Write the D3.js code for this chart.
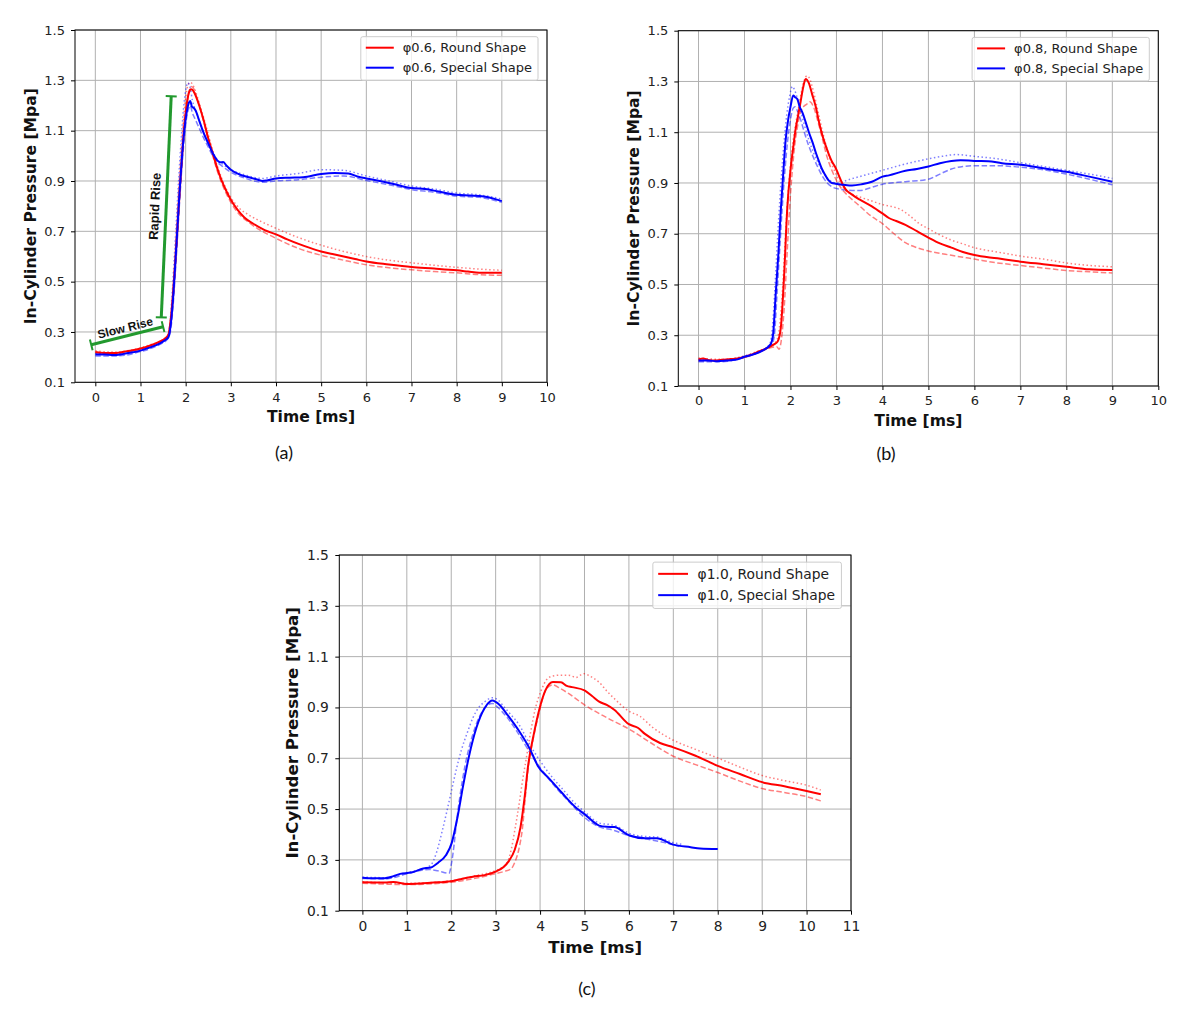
<!DOCTYPE html>
<html>
<head>
<meta charset="utf-8">
<title>In-Cylinder Pressure</title>
<script src="https://cdn.jsdelivr.net/npm/d3@7/dist/d3.min.js"></script>
<style>
	body { margin: 0; background: #fff; }
	svg { display: block; font-family: 'DejaVu Sans', sans-serif; }
</style>
</head>
<body>
<svg id="chart" width="1187" height="1020"></svg>
<script>
// [time ms, pressure MPa]
const a06Round = [[0,0.22],[0.2,0.216],[0.4,0.216],[0.6,0.22],[0.8,0.226],[1.0,0.234],[1.2,0.245],[1.4,0.26],[1.55,0.275],[1.62,0.29],[1.67,0.35],[1.72,0.45],[1.77,0.58],[1.82,0.72],[1.87,0.87],[1.92,1.0],[1.97,1.12],[2.02,1.2],[2.07,1.25],[2.12,1.265],[2.17,1.258],[2.23,1.235],[2.3,1.2],[2.4,1.14],[2.5,1.07],[2.6,1.01],[2.7,0.95],[2.8,0.9],[2.9,0.86],[3.0,0.825],[3.15,0.785],[3.3,0.755],[3.5,0.73],[3.75,0.705],[4.0,0.688],[4.25,0.668],[4.5,0.65],[4.75,0.634],[5.0,0.62],[5.25,0.61],[5.5,0.6],[5.75,0.59],[6.0,0.58],[6.5,0.568],[7.0,0.558],[7.5,0.552],[8.0,0.545],[8.25,0.54],[8.5,0.535],[9.0,0.535]]
const a06RoundDot = [[0,0.225],[0.4,0.22],[0.8,0.228],[1.2,0.248],[1.5,0.27],[1.6,0.285],[1.65,0.33],[1.7,0.43],[1.75,0.56],[1.8,0.72],[1.85,0.88],[1.9,1.02],[1.95,1.14],[2.0,1.23],[2.05,1.28],[2.1,1.292],[2.15,1.285],[2.22,1.255],[2.3,1.21],[2.4,1.15],[2.5,1.085],[2.6,1.02],[2.7,0.96],[2.8,0.91],[2.9,0.868],[3.0,0.835],[3.2,0.79],[3.4,0.765],[3.6,0.745],[3.8,0.728],[4.0,0.712],[4.5,0.675],[5.0,0.645],[5.5,0.62],[6.0,0.6],[6.5,0.585],[7.0,0.575],[7.5,0.565],[8.0,0.557],[8.5,0.55],[9.0,0.545]]
const a06RoundDash = [[0,0.215],[0.4,0.212],[0.8,0.222],[1.2,0.24],[1.5,0.265],[1.62,0.28],[1.67,0.33],[1.72,0.42],[1.77,0.55],[1.82,0.69],[1.87,0.84],[1.92,0.98],[1.97,1.1],[2.02,1.19],[2.07,1.25],[2.12,1.275],[2.17,1.27],[2.23,1.24],[2.3,1.2],[2.4,1.135],[2.5,1.065],[2.6,1.0],[2.7,0.94],[2.8,0.89],[2.9,0.85],[3.0,0.815],[3.2,0.765],[3.4,0.735],[3.6,0.71],[3.8,0.69],[4.0,0.672],[4.5,0.632],[5.0,0.605],[5.5,0.585],[6.0,0.567],[6.5,0.555],[7.0,0.547],[7.5,0.54],[8.0,0.535],[8.5,0.528],[9.0,0.525]]
const a06Special = [[0,0.21],[0.2,0.21],[0.4,0.208],[0.6,0.212],[0.8,0.218],[1.0,0.226],[1.2,0.238],[1.4,0.252],[1.55,0.268],[1.62,0.28],[1.67,0.33],[1.72,0.43],[1.77,0.57],[1.82,0.72],[1.87,0.87],[1.92,1.0],[1.97,1.1],[2.02,1.17],[2.07,1.21],[2.1,1.218],[2.14,1.195],[2.18,1.19],[2.22,1.18],[2.3,1.14],[2.4,1.09],[2.5,1.05],[2.6,1.01],[2.7,0.982],[2.76,0.974],[2.83,0.975],[2.9,0.962],[3.0,0.945],[3.2,0.925],[3.4,0.915],[3.6,0.905],[3.7,0.9],[3.8,0.902],[4.0,0.91],[4.3,0.913],[4.6,0.915],[5.0,0.928],[5.3,0.932],[5.6,0.93],[5.8,0.918],[6.0,0.91],[6.3,0.9],[6.6,0.888],[7.0,0.872],[7.3,0.868],[7.6,0.858],[8.0,0.845],[8.3,0.842],[8.6,0.838],[9.0,0.82]]
const a06SpecialDot = [[0,0.215],[0.5,0.212],[1.0,0.228],[1.4,0.255],[1.6,0.28],[1.65,0.33],[1.7,0.45],[1.75,0.6],[1.8,0.76],[1.85,0.92],[1.9,1.06],[1.95,1.18],[2.0,1.26],[2.05,1.29],[2.1,1.27],[2.15,1.22],[2.2,1.19],[2.3,1.14],[2.4,1.09],[2.5,1.05],[2.6,1.015],[2.7,0.985],[2.8,0.97],[3.0,0.945],[3.3,0.925],[3.7,0.91],[4.0,0.92],[4.5,0.93],[5.0,0.945],[5.5,0.942],[6.0,0.92],[6.5,0.9],[7.0,0.88],[7.5,0.868],[8.0,0.852],[8.5,0.845],[9.0,0.828]]
const a06SpecialDash = [[0,0.205],[0.5,0.205],[1.0,0.222],[1.4,0.248],[1.6,0.272],[1.67,0.31],[1.72,0.4],[1.77,0.53],[1.82,0.68],[1.87,0.83],[1.92,0.96],[1.97,1.07],[2.02,1.15],[2.07,1.19],[2.1,1.2],[2.15,1.17],[2.2,1.15],[2.3,1.11],[2.4,1.07],[2.5,1.035],[2.6,1.0],[2.7,0.975],[2.8,0.96],[3.0,0.935],[3.3,0.912],[3.7,0.895],[4.0,0.9],[4.5,0.905],[5.0,0.915],[5.5,0.92],[6.0,0.902],[6.5,0.885],[7.0,0.866],[7.5,0.855],[8.0,0.84],[8.5,0.835],[9.0,0.815]]

const b08Round = [[0,0.205],[0.1,0.208],[0.2,0.203],[0.35,0.2],[0.5,0.203],[0.7,0.206],[0.9,0.21],[1.1,0.22],[1.3,0.235],[1.5,0.25],[1.65,0.265],[1.72,0.275],[1.79,0.33],[1.86,0.53],[1.93,0.8],[2.0,0.95],[2.06,1.04],[2.11,1.11],[2.17,1.17],[2.22,1.22],[2.28,1.28],[2.33,1.31],[2.4,1.293],[2.47,1.25],[2.55,1.2],[2.62,1.14],[2.69,1.09],[2.76,1.05],[2.83,1.015],[2.9,0.985],[2.98,0.96],[3.05,0.93],[3.12,0.9],[3.2,0.875],[3.34,0.854],[3.5,0.835],[3.77,0.808],[4.0,0.78],[4.14,0.762],[4.3,0.75],[4.5,0.735],[4.75,0.71],[5.0,0.685],[5.25,0.662],[5.5,0.645],[5.75,0.628],[6.0,0.616],[6.5,0.603],[7.0,0.59],[7.5,0.58],[8.0,0.57],[8.5,0.56],[9.0,0.557]]
const b08RoundDot = [[0,0.21],[0.5,0.205],[1.0,0.218],[1.3,0.238],[1.6,0.262],[1.7,0.28],[1.76,0.33],[1.82,0.46],[1.88,0.66],[1.94,0.84],[2.0,0.97],[2.06,1.07],[2.12,1.14],[2.18,1.2],[2.24,1.26],[2.3,1.305],[2.36,1.322],[2.42,1.31],[2.5,1.26],[2.6,1.18],[2.7,1.1],[2.8,1.03],[2.9,0.975],[3.0,0.93],[3.1,0.895],[3.2,0.87],[3.35,0.855],[3.5,0.845],[3.75,0.83],[4.0,0.815],[4.25,0.805],[4.4,0.795],[4.6,0.77],[4.8,0.74],[5.0,0.72],[5.25,0.695],[5.5,0.675],[5.75,0.66],[6.0,0.645],[6.5,0.628],[7.0,0.612],[7.5,0.6],[8.0,0.585],[8.5,0.575],[9.0,0.57]]
const b08RoundDash = [[0,0.2],[0.5,0.2],[1.0,0.215],[1.3,0.232],[1.55,0.25],[1.7,0.255],[1.75,0.245],[1.8,0.28],[1.86,0.4],[1.92,0.6],[1.98,0.8],[2.04,0.95],[2.1,1.06],[2.16,1.13],[2.22,1.18],[2.28,1.2],[2.35,1.21],[2.42,1.22],[2.5,1.2],[2.6,1.14],[2.7,1.07],[2.8,1.0],[2.9,0.95],[3.0,0.91],[3.1,0.88],[3.25,0.85],[3.5,0.81],[3.75,0.77],[4.0,0.74],[4.25,0.7],[4.5,0.665],[4.75,0.645],[5.0,0.632],[5.5,0.615],[6.0,0.6],[6.5,0.585],[7.0,0.575],[7.5,0.565],[8.0,0.555],[8.5,0.55],[9.0,0.545]]
const b08Special = [[0,0.2],[0.2,0.2],[0.4,0.198],[0.6,0.2],[0.8,0.203],[1.0,0.215],[1.2,0.225],[1.4,0.24],[1.57,0.265],[1.62,0.3],[1.68,0.466],[1.74,0.63],[1.79,0.795],[1.84,0.93],[1.89,1.06],[1.95,1.15],[2.0,1.2],[2.06,1.245],[2.1,1.238],[2.15,1.23],[2.2,1.2],[2.26,1.177],[2.33,1.14],[2.4,1.1],[2.48,1.06],[2.55,1.02],[2.62,0.985],[2.69,0.953],[2.76,0.93],[2.83,0.91],[2.9,0.9],[2.98,0.897],[3.15,0.893],[3.34,0.89],[3.55,0.895],[3.77,0.905],[4.0,0.925],[4.14,0.93],[4.5,0.948],[4.75,0.955],[5.0,0.965],[5.25,0.978],[5.5,0.987],[5.7,0.99],[6.0,0.987],[6.3,0.986],[6.6,0.978],[7.0,0.972],[7.5,0.958],[8.0,0.944],[8.5,0.925],[9.0,0.905]]
const b08SpecialDot = [[0,0.205],[0.5,0.2],[1.0,0.218],[1.3,0.235],[1.5,0.255],[1.57,0.275],[1.62,0.36],[1.68,0.55],[1.74,0.75],[1.8,0.92],[1.86,1.06],[1.92,1.17],[1.98,1.24],[2.04,1.28],[2.08,1.27],[2.14,1.24],[2.2,1.2],[2.3,1.13],[2.4,1.07],[2.5,1.02],[2.6,0.98],[2.7,0.945],[2.8,0.92],[2.9,0.905],[3.0,0.9],[3.3,0.915],[3.6,0.93],[4.0,0.95],[4.5,0.975],[5.0,0.995],[5.3,1.005],[5.6,1.012],[6.0,1.005],[6.5,0.995],[7.0,0.98],[7.5,0.965],[8.0,0.95],[8.5,0.935],[9.0,0.918]]
const b08SpecialDash = [[0,0.196],[0.5,0.196],[1.0,0.212],[1.3,0.232],[1.5,0.25],[1.6,0.265],[1.65,0.3],[1.7,0.44],[1.76,0.62],[1.82,0.8],[1.88,0.95],[1.94,1.07],[2.0,1.15],[2.06,1.195],[2.1,1.2],[2.16,1.18],[2.22,1.15],[2.3,1.1],[2.4,1.045],[2.5,1.0],[2.6,0.96],[2.7,0.925],[2.8,0.9],[2.9,0.885],[3.0,0.878],[3.25,0.872],[3.5,0.87],[3.75,0.882],[4.0,0.895],[4.5,0.905],[5.0,0.915],[5.25,0.935],[5.5,0.955],[5.75,0.965],[6.0,0.968],[6.5,0.968],[7.0,0.962],[7.5,0.952],[8.0,0.935],[8.5,0.915],[9.0,0.893]]

const c10Round = [[0,0.212],[0.5,0.211],[0.7,0.213],[1.0,0.205],[1.3,0.207],[1.54,0.21],[2.0,0.216],[2.25,0.226],[2.49,0.234],[2.75,0.24],[3.0,0.254],[3.18,0.272],[3.3,0.296],[3.43,0.34],[3.56,0.429],[3.65,0.543],[3.73,0.67],[3.86,0.796],[3.99,0.897],[4.12,0.967],[4.29,1.0],[4.47,0.999],[4.6,0.985],[4.72,0.98],[5.0,0.967],[5.17,0.945],[5.33,0.923],[5.5,0.91],[5.67,0.891],[6.0,0.834],[6.2,0.82],[6.36,0.796],[6.7,0.76],[7.0,0.743],[7.5,0.71],[8.0,0.67],[8.5,0.638],[9.0,0.606],[9.5,0.59],[10.0,0.571],[10.32,0.558]]
const c10RoundDot = [[0,0.214],[1.0,0.208],[2.0,0.218],[2.5,0.236],[2.9,0.252],[3.1,0.266],[3.26,0.29],[3.35,0.34],[3.43,0.416],[3.52,0.51],[3.6,0.606],[3.69,0.7],[3.78,0.796],[3.9,0.9],[4.04,0.973],[4.15,1.01],[4.29,1.024],[4.45,1.027],[4.64,1.027],[4.81,1.018],[4.92,1.028],[5.0,1.033],[5.1,1.025],[5.33,0.999],[5.5,0.965],[5.67,0.935],[6.0,0.885],[6.25,0.865],[6.53,0.822],[7.0,0.771],[7.5,0.735],[8.0,0.701],[8.5,0.665],[9.0,0.632],[9.5,0.612],[10.0,0.594],[10.32,0.575]]
const c10RoundDash = [[0,0.208],[1.0,0.203],[2.0,0.212],[2.5,0.226],[3.0,0.246],[3.2,0.255],[3.35,0.265],[3.43,0.29],[3.52,0.34],[3.6,0.42],[3.67,0.55],[3.74,0.67],[3.85,0.78],[3.95,0.86],[4.05,0.93],[4.15,0.975],[4.29,0.989],[4.45,0.975],[4.64,0.955],[5.0,0.91],[5.5,0.86],[6.0,0.815],[6.5,0.76],[7.0,0.708],[7.5,0.675],[8.0,0.644],[8.5,0.61],[9.0,0.581],[9.5,0.565],[10.0,0.549],[10.32,0.532]]
const c10Special = [[0,0.23],[0.25,0.228],[0.5,0.228],[0.7,0.236],[0.85,0.245],[1.1,0.25],[1.37,0.266],[1.54,0.27],[1.71,0.29],[1.88,0.318],[2.01,0.366],[2.14,0.467],[2.27,0.594],[2.4,0.708],[2.57,0.822],[2.75,0.897],[2.87,0.923],[2.92,0.927],[3.0,0.922],[3.09,0.91],[3.26,0.872],[3.52,0.809],[3.78,0.733],[3.95,0.67],[4.21,0.619],[4.47,0.568],[4.81,0.505],[5.0,0.48],[5.33,0.435],[5.5,0.43],[5.67,0.429],[6.0,0.397],[6.36,0.385],[6.62,0.385],[7.0,0.36],[7.39,0.35],[7.6,0.345],[8.0,0.343]]
const c10SpecialDot = [[0,0.232],[0.5,0.23],[1.0,0.25],[1.3,0.262],[1.54,0.28],[1.67,0.33],[1.8,0.416],[1.9,0.49],[2.0,0.568],[2.12,0.66],[2.23,0.733],[2.36,0.8],[2.49,0.86],[2.62,0.9],[2.75,0.922],[2.92,0.938],[3.05,0.93],[3.18,0.904],[3.35,0.87],[3.52,0.834],[3.78,0.75],[4.0,0.69],[4.25,0.63],[4.5,0.58],[4.8,0.52],[5.0,0.49],[5.33,0.445],[5.67,0.436],[6.0,0.405],[6.36,0.392],[6.62,0.39],[7.0,0.368],[7.22,0.36]]
const c10SpecialDash = [[0,0.227],[0.5,0.225],[1.0,0.245],[1.3,0.258],[1.5,0.262],[1.7,0.257],[1.95,0.247],[2.0,0.28],[2.06,0.353],[2.12,0.45],[2.19,0.543],[2.31,0.67],[2.49,0.796],[2.7,0.885],[2.92,0.916],[3.05,0.9],[3.26,0.86],[3.5,0.8],[3.78,0.72],[4.1,0.64],[4.38,0.58],[4.7,0.52],[5.0,0.467],[5.33,0.43],[5.67,0.416],[6.0,0.395],[6.53,0.378],[6.8,0.368],[7.13,0.353]]

// ticks and labels
const yTicks = [0.1, 0.3, 0.5, 0.7, 0.9, 1.1, 1.3, 1.5]
const xTicks10 = [0, 1, 2, 3, 4, 5, 6, 7, 8, 9, 10]
const xTicks11 = [0, 1, 2, 3, 4, 5, 6, 7, 8, 9, 10, 11]
const legendA = ['φ0.6, Round Shape', 'φ0.6, Special Shape']
const legendB = ['φ0.8, Round Shape', 'φ0.8, Special Shape']
const legendC = ['φ1.0, Round Shape', 'φ1.0, Special Shape']
const yLabel = 'In-Cylinder Pressure [Mpa]'
const xLabel = 'Time [ms]'

// green brackets on panel (a)
const slowRise = [[-0.09, 0.249], [1.5, 0.321]]
const rapidRise = [[1.46, 0.358], [1.68, 1.237]]

const RED = '#ff0000'
const BLUE = '#0000ff'
const GREEN = '#22992e'
const DOT = '1.5,2.5'
const DASH = '5.5,2.5'

const set = (round, roundDot, roundDash, special, specialDot, specialDash) => [
	{ data: roundDot, color: RED, dash: DOT },
	{ data: roundDash, color: RED, dash: DASH },
	{ data: specialDot, color: BLUE, dash: DOT },
	{ data: specialDash, color: BLUE, dash: DASH },
	{ data: round, color: RED, dash: null },
	{ data: special, color: BLUE, dash: null },
]

const panels = [
	{ tag: '(a)', tagAt: [284, 452], box: [75, 30, 547, 382.3], xDomain: [-0.45, 10], xTicks: xTicks10, k: 1, legend: legendA,
		series: set(a06Round, a06RoundDot, a06RoundDash, a06Special, a06SpecialDot, a06SpecialDash), notes: true },
	{ tag: '(b)', tagAt: [886, 453], box: [678.3, 30.7, 1158.3, 386], xDomain: [-0.44, 10], xTicks: xTicks10, k: 1, legend: legendB,
		series: set(b08Round, b08RoundDot, b08RoundDash, b08Special, b08SpecialDot, b08SpecialDash) },
	{ tag: '(c)', tagAt: [587, 988], box: [339.3, 555, 851, 910.7], xDomain: [-0.52, 11], xTicks: xTicks11, k: 1.065, legend: legendC,
		series: set(c10Round, c10RoundDot, c10RoundDash, c10Special, c10SpecialDot, c10SpecialDash) },
]

const svg = d3.select('#chart')

const bracket = (g, pts, x, y, label, fontSize, side) => {
	const [p0, p1] = pts.map(d => [x(d[0]), y(d[1])])
	const dx = p1[0] - p0[0]
	const dy = p1[1] - p0[1]
	const len = Math.hypot(dx, dy)
	const nx = -dy / len
	const ny = dx / len
	const cap = 5.5
	g.append('line')
		.attr('x1', p0[0]).attr('y1', p0[1]).attr('x2', p1[0]).attr('y2', p1[1])
		.attr('stroke', GREEN).attr('stroke-width', 3)
	;[p0, p1].forEach(p => {
		g.append('line')
			.attr('x1', p[0] - nx * cap).attr('y1', p[1] - ny * cap)
			.attr('x2', p[0] + nx * cap).attr('y2', p[1] + ny * cap)
			.attr('stroke', GREEN).attr('stroke-width', 2)
	})
	const angle = Math.atan2(dy, dx) * 180 / Math.PI
	const mx = (p0[0] + p1[0]) / 2 + nx * side
	const my = (p0[1] + p1[1]) / 2 + ny * side
	g.append('text')
		.attr('transform', `translate(${mx},${my}) rotate(${angle})`)
		.attr('text-anchor', 'middle').attr('dominant-baseline', 'central')
		.attr('font-family', "'Liberation Sans', Arial, sans-serif").attr('font-weight', 'bold')
		.attr('font-size', fontSize).attr('fill', '#111')
		.text(label)
}

const drawPanel = (p) => {
	const [x0, y0, x1, y1] = p.box
	const k = p.k
	const x = d3.scaleLinear().domain(p.xDomain).range([x0, x1])
	const y = d3.scaleLinear().domain([0.1, 1.5]).range([y1, y0])
	const g = svg.append('g')

	// grid
	const grid = g.append('g').attr('stroke', '#b0b0b0').attr('stroke-width', 1)
	grid.selectAll('line.gx').data(p.xTicks).join('line').attr('class', 'gx')
		.attr('x1', d => x(d)).attr('x2', d => x(d)).attr('y1', y0).attr('y2', y1)
	grid.selectAll('line.gy').data(yTicks).join('line').attr('class', 'gy')
		.attr('x1', x0).attr('x2', x1).attr('y1', d => y(d)).attr('y2', d => y(d))

	// curves
	const line = d3.line().x(d => x(d[0])).y(d => y(d[1])).curve(d3.curveMonotoneX)
	g.append('g').selectAll('path').data(p.series).join('path')
		.attr('d', d => line(d.data))
		.attr('fill', 'none')
		.attr('stroke', d => d.color)
		.attr('stroke-width', d => d.dash ? 1.5 : 2)
		.attr('stroke-opacity', d => d.dash ? 0.5 : 1)
		.attr('stroke-dasharray', d => d.dash)
		.attr('stroke-linejoin', 'round')

	if (p.notes) {
		const ng = g.append('g')
		// the slow rise bracket runs left to right, the rapid one bottom to top
		bracket(ng, slowRise, x, y, 'Slow Rise', 12, -8)
		bracket(ng, rapidRise, x, y, 'Rapid Rise', 13, -11.5)
	}

	// frame
	g.append('rect')
		.attr('x', x0).attr('y', y0).attr('width', x1 - x0).attr('height', y1 - y0)
		.attr('fill', 'none').attr('stroke', '#000').attr('stroke-width', 1)

	// axes
	const tickFont = 13 * k
	const axX = g.append('g').attr('transform', `translate(0,${y1})`)
		.call(d3.axisBottom(x).tickValues(p.xTicks).tickFormat(d3.format('d')).tickSize(4).tickPadding(6 * k))
	const axY = g.append('g').attr('transform', `translate(${x0},0)`)
		.call(d3.axisLeft(y).tickValues(yTicks).tickFormat(d3.format('.1f')).tickSize(4).tickPadding(6 * k))
	;[axX, axY].forEach(ax => {
		ax.select('.domain').remove()
		ax.attr('font-family', "'DejaVu Sans', sans-serif").attr('font-size', tickFont)
		ax.selectAll('.tick line').attr('stroke', '#000')
		ax.selectAll('.tick text').attr('fill', '#222')
	})

	// axis titles
	g.append('text')
		.attr('transform', `translate(${x0 - 44 * k},${(y0 + y1) / 2}) rotate(-90)`)
		.attr('text-anchor', 'middle').attr('dominant-baseline', 'central')
		.attr('font-weight', 'bold').attr('font-size', 15.6 * k).attr('fill', '#111')
		.text(yLabel)
	g.append('text')
		.attr('x', (x0 + x1) / 2).attr('y', y1 + 35 * k)
		.attr('text-anchor', 'middle').attr('dominant-baseline', 'central')
		.attr('font-weight', 'bold').attr('font-size', 15.6 * k).attr('fill', '#111')
		.text(xLabel)

	// legend
	const lg = g.append('g')
	const rows = lg.selectAll('g').data(p.legend).join('g')
		.attr('transform', (_, i) => `translate(0,${(11 + i * 20) * k})`)
	rows.append('line')
		.attr('x1', 5 * k).attr('x2', 33 * k)
		.attr('stroke', (_, i) => i === 0 ? RED : BLUE).attr('stroke-width', 2)
	rows.append('text')
		.attr('x', 42 * k).attr('dominant-baseline', 'central')
		.attr('font-size', 13 * k).attr('fill', '#222')
		.text(d => d)
	const textW = d3.max(rows.selectAll('text').nodes(), n => n.getComputedTextLength())
	const boxW = 42 * k + textW + 6 * k
	const boxH = 43.5 * k
	lg.insert('rect', ':first-child')
		.attr('width', boxW).attr('height', boxH).attr('rx', 2)
		.attr('fill', '#fff').attr('fill-opacity', 0.8)
		.attr('stroke', '#cccccc').attr('stroke-width', 1)
	lg.attr('transform', `translate(${x1 - 9 * k - boxW},${y0 + 6.7 * k})`)

	// panel tag
	svg.append('text')
		.attr('x', p.tagAt[0]).attr('y', p.tagAt[1])
		.attr('text-anchor', 'middle').attr('dominant-baseline', 'central')
		.attr('font-family', "Lato, 'Open Sans', sans-serif").attr('font-size', 18).attr('fill', '#111')
		.text(p.tag)
}

panels.forEach(drawPanel)
</script>
</body>
</html>
